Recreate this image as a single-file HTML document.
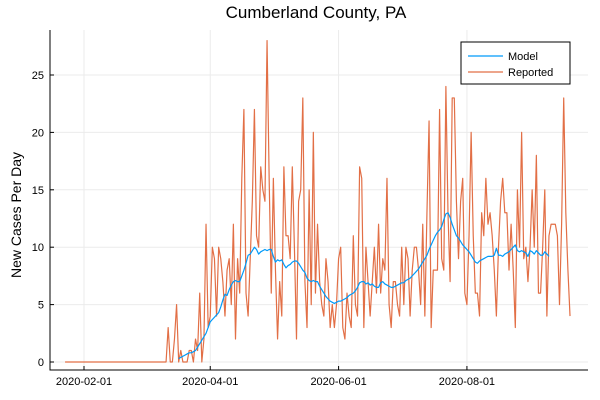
<!DOCTYPE html>
<html><head><meta charset="utf-8"><style>
body{margin:0;background:#fff;}
svg{display:block;font-family:"Liberation Sans",sans-serif;}
</style></head><body>
<svg id="chart" width="600" height="400">
<text x="316" y="18" font-size="17" text-anchor="middle" fill="#000">Cumberland County, PA</text>
<text transform="translate(21,215) rotate(-90)" font-size="14" text-anchor="middle" fill="#000">New Cases Per Day</text>
<g id="grid"></g>
<g id="axes"></g>
<g id="series"></g>
<g>
<rect x="461" y="42" width="109" height="42" fill="#fff" stroke="#000" stroke-width="1"/>
<g><line x1="468" y1="56" x2="503" y2="56" stroke="#009af9" stroke-width="1.2"/><text x="508" y="60" font-size="11">Model</text></g>
<g><line x1="468" y1="72" x2="503" y2="72" stroke="#e26f46" stroke-width="1.2"/><text x="508" y="76" font-size="11">Reported</text></g>
</g>
</svg>
<script>
const xTickDays=[9,69,130,191];
const xTickLabels=["2020-02-01","2020-04-01","2020-06-01","2020-08-01"];
const yTicks=[0,5,10,15,20,25];
const reportedStart=0;
const reported=[0,0,0,0,0,0,0,0,0,0,0,0,0,0,0,0,0,0,0,0,0,0,0,0,0,0,0,0,0,0,0,0,0,0,0,0,0,0,0,0,0,0,0,0,0,0,0,0,0,
3,0,0,2,5,0,1,0,0,0,1,1,0,2,1,6,0,2,12,3,4,10,9,4,10,9,7,4,8,9,5,12,2,9,6,16,22,6,4,9,14,22,11,10,17,15,14,28,16,6,16,8,2,7,4,17,11,11,9,17,10,2,14,
15,23,7,3,15,5,20,6,12,7,5,4,9,7,3,5,3,5,9,10,3,2,6,4,3,11,5,4,17,16,3,10,7,4,7,10,6,12,6,9,8,16,5,3,7,7,5,4,10,5,10,9,4,8,10,10,8,5,12,4,13,
21,3,8,8,8,22,9,8,24,13,7,23,23,14,9,14,16,6,5,11,20,11,6,6,4,13,11,16,12,13,11,8,4,10,14,16,13,13,8,12,8,3,15,10,20,9,10,7,10,15,10,18,6,6,10,15,4,11,12,12,12,11,5,12,23,13,8,4];
const modelStart=54;
const model=[0.3,0.4,0.5,0.6,0.7,0.8,0.8,0.9,1.0,
1.3,1.6,1.9,2.2,2.5,3.0,3.5,
3.7,3.9,4.1,4.3,4.8,5.4,5.9,
5.8,6.3,6.7,7.0,
7.1,7.0,7.0,7.5,8.0,8.6,9.3,
9.4,9.7,10.0,9.8,9.4,9.6,9.7,9.8,9.7,9.8,9.8,
9.2,8.7,8.9,8.8,8.9,8.5,8.2,8.4,8.5,8.7,8.8,8.8,
8.6,8.3,8.0,7.8,7.3,7.1,7.0,7.1,7.0,7.0,
6.6,6.3,6.0,5.7,5.5,5.3,5.2,5.1,
5.2,5.3,5.3,5.4,5.5,5.6,5.8,5.9,6.0,
6.2,6.5,6.9,7.0,7.0,6.8,6.9,6.7,6.8,
6.6,6.5,6.5,6.9,7.0,6.8,6.7,6.6,6.5,6.5,
6.6,6.7,6.8,6.9,6.9,7.1,7.2,7.3,7.5,
7.7,7.9,8.1,8.4,8.7,9.0,9.3,9.8,10.2,10.6,
11.0,11.3,11.5,11.8,12.4,12.9,13.0,
12.6,12.0,11.5,11.0,10.8,10.5,10.2,10.0,9.8,9.6,
9.3,9.0,8.7,8.6,8.8,8.9,9.0,9.1,9.2,9.2,9.2,
9.3,9.9,9.3,9.3,9.2,9.4,9.5,9.6,9.8,10.0,10.2,
9.7,9.6,9.7,9.6,9.5,9.2,9.7,9.6,9.4,9.7,
9.5,9.3,9.3,9.6,9.4,9.2];

const NS="http://www.w3.org/2000/svg";
const L=50,R=588,T=30,B=370;
function xScale(d){return 84+(d-9)*2.104;}
function yScale(v){return 362-v*11.48;}
function mk(tag,attrs,parent){const e=document.createElementNS(NS,tag);for(const k in attrs)e.setAttribute(k,attrs[k]);parent.appendChild(e);return e;}
const grid=document.getElementById('grid'),axes=document.getElementById('axes'),series=document.getElementById('series');
yTicks.forEach(v=>{
  const g=mk('line',{x1:L,x2:R,y1:yScale(v),y2:yScale(v),stroke:'#ebebeb','stroke-width':1},grid);
  
  
  const t=mk('text',{x:L-6,y:yScale(v)+4,'font-size':11,'text-anchor':'end',fill:'#000'},axes);
  t.textContent=v;
  
  
  mk('line',{x1:L,x2:L+4,y1:yScale(v),y2:yScale(v),stroke:'#000'},axes);
});
xTickDays.forEach((d,i)=>{
  const g=mk('line',{x1:xScale(d),x2:xScale(d),y1:T,y2:B,stroke:'#ebebeb','stroke-width':1},grid);
  
  
  const t=mk('text',{x:xScale(d),y:B+15,'font-size':11,'text-anchor':'middle',fill:'#000'},axes);
  t.textContent=xTickLabels[i];
  
  
  mk('line',{x1:xScale(d),x2:xScale(d),y1:B,y2:B-4,stroke:'#000'},axes);
});
const ax=mk('path',{d:`M${L},${T}V${B}H${R}`,fill:'none',stroke:'#000','stroke-width':1},axes);


function linePath(arr,start){return arr.map((v,i)=>(i?'L':'M')+xScale(start+i).toFixed(2)+','+yScale(v).toFixed(2)).join('');}
const rp=mk('path',{d:linePath(reported,reportedStart),fill:'none',stroke:'#e26f46','stroke-width':1.2,'stroke-linejoin':'round'},series);


const mp=mk('path',{d:linePath(model,modelStart),fill:'none',stroke:'#009af9','stroke-width':1.2,'stroke-linejoin':'round'},series);


</script>
</body></html>
